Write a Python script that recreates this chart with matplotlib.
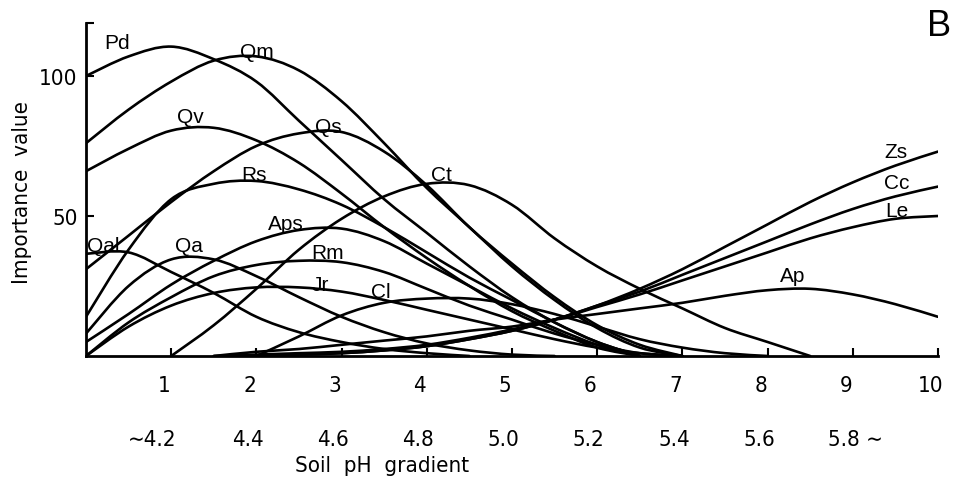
#!/usr/bin/env python3
import matplotlib
matplotlib.use("Agg")
import matplotlib.pyplot as plt
import matplotlib.transforms as mtransforms
from matplotlib.path import Path
from matplotlib.patches import PathPatch
import numpy as np

nan = np.nan

# position along the soil pH gradient (0.5 steps)
gradient = [0, 0.5, 1, 1.5, 2, 2.5, 3, 3.5, 4, 4.5, 5,
            5.5, 6, 6.5, 7, 7.5, 8, 8.5, 9, 9.5, 10]

# importance values, one list per species (nan = absent)
pd_vals = [100, 107, 110.5, 106, 98, 84, 70, 56, 44, 32, 21, 12, 5, 0,
           nan, nan, nan, nan, nan, nan, nan]
qm_vals = [76, 88, 98, 105.5, 107, 102, 91, 76, 60, 46, 32, 20, 10, 3, 0,
           nan, nan, nan, nan, nan, nan]
qv_vals = [66, 74, 80.5, 81.5, 77, 69, 58, 46, 35, 25, 16, 9, 3, 0,
           nan, nan, nan, nan, nan, nan, nan]
qs_vals = [31, 43, 55, 66, 75, 79.5, 80, 73, 61, 46, 33, 21, 11, 4, 0,
           nan, nan, nan, nan, nan, nan]
ct_vals = [nan, nan, 0, 11, 24, 38, 49, 57, 61.5, 61, 54, 42, 32, 24, 17,
           10, 5, 0, nan, nan, nan]
rs_vals = [14, 38, 56, 61.5, 62.5, 59.5, 54, 46, 37, 28, 20, 12, 5, 0,
           nan, nan, nan, nan, nan, nan, nan]
aps_vals = [5, 15, 25.5, 34, 41, 45, 45.5, 41, 33, 25, 17, 10, 4, 0,
            nan, nan, nan, nan, nan, nan, nan]
rm_vals = [0, 12, 21, 28.5, 32.5, 34, 33.5, 30, 24, 18, 13, 8, 4, 1, 0,
           nan, nan, nan, nan, nan, nan]
jr_vals = [0, 10.5, 18, 22.5, 24.5, 24.5, 23, 20, 16.5, 13, 9.5, 6, 3, 1, 0,
           nan, nan, nan, nan, nan, nan]
qa_vals = [8, 25, 34.5, 34.5, 28.5, 21, 14, 8.5, 4.5, 2, 0.5, 0,
           nan, nan, nan, nan, nan, nan, nan, nan, nan]
qal_vals = [36.5, 37, 30, 22.5, 14, 8.5, 5, 2.5, 1, 0,
            nan, nan, nan, nan, nan, nan, nan, nan, nan, nan, nan]
cl_vals = [nan, nan, nan, nan, 0, 7, 14.5, 19, 20.5, 20.5, 18.5, 15, 10.5,
           6, 3, 1, 0, nan, nan, nan, nan]
zs_vals = [nan, nan, nan, nan, 0, 0.5, 1, 2, 3.5, 6, 9, 13, 18, 24, 31,
           39, 47, 55, 62, 68, 73]
cc_vals = [nan, nan, nan, nan, 0, 0.5, 1, 2, 3.5, 6, 9, 13, 18, 23, 29,
           35, 41, 47, 52.5, 57, 60.5]
le_vals = [nan, nan, nan, 0, 0.5, 1, 1.5, 2.5, 4, 6.5, 9.5, 13, 17.5, 22,
           27, 32, 37, 42, 46, 49, 50]
ap_vals = [nan, nan, nan, 0, 1.5, 2.5, 4, 5.5, 7, 9, 10.5, 13, 15, 17, 19,
           21.5, 23.5, 24, 22, 18.5, 14]

x_ticks = [1, 2, 3, 4, 5, 6, 7, 8, 9, 10]
ph_labels = ["\u223c4.2", "4.4", "4.6", "4.8", "5.0", "5.2", "5.4", "5.6",
             "5.8 \u223c"]

species = {
    "Pd": pd_vals, "Qm": qm_vals, "Qv": qv_vals, "Qs": qs_vals,
    "Ct": ct_vals, "Rs": rs_vals, "Aps": aps_vals, "Rm": rm_vals,
    "Jr": jr_vals, "Qa": qa_vals, "Qal": qal_vals, "Cl": cl_vals,
    "Zs": zs_vals, "Cc": cc_vals, "Le": le_vals, "Ap": ap_vals,
}

# where each name sits (data coords)
label_pos = {
    "Pd": (0.36, 111.8), "Qm": (2.01, 108.9), "Qv": (1.22, 85.7),
    "Qs": (2.84, 81.8), "Rs": (1.97, 65), "Ct": (4.17, 65),
    "Aps": (2.35, 47.5), "Rm": (2.83, 37.1), "Jr": (2.75, 25.7),
    "Cl": (3.46, 23.2), "Qal": (0.2, 39.3), "Qa": (1.21, 39.3),
    "Zs": (9.51, 72.9), "Cc": (9.51, 62.1), "Le": (9.52, 52.1),
    "Ap": (8.29, 28.9),
}

NARROW = ["Liberation Sans Narrow", "DejaVu Sans"]
NAMEFONT = ["Liberation Sans", "DejaVu Sans"]


def smooth_path(xs, ys):
    """Bezier path through the read points (Catmull-Rom handles)."""
    pts = np.column_stack([xs, ys])
    n = len(pts)
    verts = [pts[0]]
    codes = [Path.MOVETO]
    for i in range(n - 1):
        p0 = pts[i - 1] if i > 0 else pts[i]
        p1 = pts[i]
        p2 = pts[i + 1]
        p3 = pts[i + 2] if i + 2 < n else pts[i + 1]
        verts += [p1 + (p2 - p0) / 6, p2 - (p3 - p1) / 6, p2]
        codes += [Path.CURVE4] * 3
    return Path(verts, codes)


def draw_curve(ax, vals):
    x = np.array(gradient, dtype=float)
    y = np.array(vals, dtype=float)
    ok = ~np.isnan(y)
    # split into runs of present values
    idx = np.flatnonzero(ok)
    runs = np.split(idx, np.flatnonzero(np.diff(idx) > 1) + 1)
    for r in runs:
        if len(r) < 2:
            continue
        p = PathPatch(smooth_path(x[r], y[r]), fill=False, ec="black",
                      lw=1.9, capstyle="round", joinstyle="round")
        ax.add_patch(p)


def main():
    fig = plt.figure(figsize=(9.63, 4.81), dpi=100)
    ax = fig.add_axes([0.0893, 0.2578, 0.8847, 0.6927])

    for name, vals in species.items():
        draw_curve(ax, vals)
        lx, ly = label_pos[name]
        ax.text(lx, ly, name, ha="center", va="center", fontsize=15,
                family=NAMEFONT)

    ax.set_xlim(0, 10)
    ax.set_ylim(0, 119)
    for s in ["top", "right"]:
        ax.spines[s].set_visible(False)
    for s in ["left", "bottom"]:
        ax.spines[s].set_linewidth(2)

    ax.set_xticks(x_ticks)
    ax.set_xticklabels([str(t) for t in x_ticks], family=NARROW, fontsize=16,
                       fontstretch="condensed")
    ax.set_yticks([50, 100, 119])
    ax.set_yticklabels(["50", "100", ""], family=NARROW, fontsize=16,
                       fontstretch="condensed")
    ax.tick_params(axis="x", direction="in", length=6, width=1.5, pad=14)
    ax.tick_params(axis="y", direction="in", length=6, width=1.5, pad=6)

    shift = mtransforms.ScaledTranslation(-7 / 100, 0, fig.dpi_scale_trans)
    for lab in ax.get_xticklabels():
        lab.set_transform(lab.get_transform() + shift)

    trans = mtransforms.blended_transform_factory(ax.transData, fig.transFigure)
    ph_x = [0.78] + [t - 0.1 for t in x_ticks[1:8]] + [9.03]
    for px, lab in zip(ph_x, ph_labels):
        ax.text(px, 0.085, lab, transform=trans, ha="center", va="center",
                fontsize=16, family=NARROW, fontstretch="condensed")

    fig.text(0.397, 0.031, "Soil  pH  gradient", ha="center", va="center",
             fontsize=16, family=NARROW, fontstretch="condensed")
    fig.text(0.023, 0.60, "Importance  value", rotation=90, ha="center",
             va="center", fontsize=16, family=NARROW, fontstretch="condensed")
    fig.text(0.975, 0.945, "B", ha="center", va="center", fontsize=26,
             family=NAMEFONT)

    fig.savefig("out.png", dpi=100)


if __name__ == "__main__":
    main()
